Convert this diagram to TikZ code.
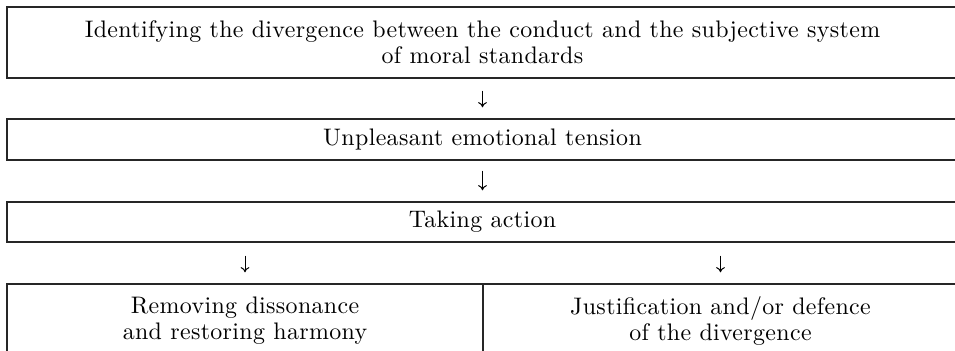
\documentclass[tikz,border=0pt]{standalone}
\usepackage{fontspec}
\setmainfont{lmroman10-regular.otf}[LetterSpace=1.5]
\usetikzlibrary{arrows.meta}

\begin{document}
\begin{tikzpicture}
[   x=0.25mm,y=-0.25mm,
    rbox/.style={draw=black!85,line width=0.35mm,inner sep=0pt,align=center,minimum width=#1},
    darr/.style={-{To[length=1.3mm,width=2.2mm]},line width=0.25mm,shorten <=#1,shorten >=2.75mm},
    font=\fontsize{17}{18.4}\selectfont,
]
\useasboundingbox (0,0) rectangle (955,351);

%%%%%%%%%%%%%%%%%%%% FIRST ROWS %%%%%%%%%%%%%%%%%%%%%%%%%%%%%%%%%%%
    \node[rbox=237.75mm,minimum height=17.75mm] (ident) at (482.5,42.5)
        {Identifying the divergence between the conduct and the subjective system\\of moral standards};
    \node[rbox=237.75mm,minimum height=10.25mm] (tension) at (482.5,139.5) {Unpleasant emotional tension};
    \node[rbox=237.75mm,minimum height=10mm] (action) at (482.5,222) {Taking action};
    \draw[darr=3mm] (ident) -- (tension);
    \draw[darr=2.5mm] (tension) -- (action);


%%%%%%%%%%%%%%%%%%%% OUTCOMES %%%%%%%%%%%%%%%%%%%%%%%%%%%%%%%%%%%
    \node[rbox=119mm,minimum height=18.5mm] (remove) at (245,321)
        {Removing dissonance\\and restoring harmony};
    \node[rbox=118.75mm,minimum height=18.5mm] (justify) at (720.5,321)
        {Justification and/or defence\\of the divergence};
    \draw[darr=3.25mm] (action.south -| remove.north) -- (remove.north);
    \draw[darr=3.25mm] (action.south -| justify.north) -- (justify.north);

\end{tikzpicture}
\end{document}
